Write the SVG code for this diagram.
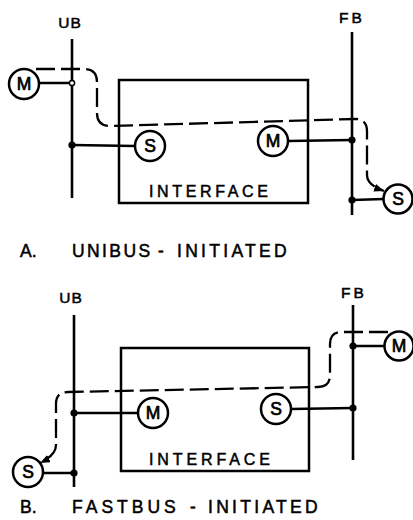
<svg xmlns="http://www.w3.org/2000/svg" width="413" height="520" viewBox="0 0 413 520">
<defs>
<style>
.ln{stroke:#000;stroke-width:2.5;fill:none;stroke-linecap:round}
.bus{stroke:#000;stroke-width:2.6;fill:none}
.box{stroke:#000;stroke-width:2.5;fill:none}
.dash{stroke:#000;stroke-width:2.3;fill:none;stroke-dasharray:19 6}
.dot{fill:#000}
.jn{fill:#fff;stroke:#000;stroke-width:1.5}
.mod circle{fill:#fff;stroke:#000;stroke-width:2.5}
text{font-family:"Liberation Sans",Arial,sans-serif;fill:#000;stroke:#000;stroke-width:0.5}
.ml{font-size:17.5px;text-anchor:middle;stroke-width:0.7}
.bl{font-size:15.5px;text-anchor:middle}
.it{font-size:16px}
.cap{font-size:17.5px}
</style>
<marker id="arr" markerUnits="userSpaceOnUse" markerWidth="11" markerHeight="9" refX="10" refY="4" orient="auto">
<path d="M0,0 L10,4 L0,8 Z" fill="#000"/>
</marker>
</defs>
<rect width="413" height="520" fill="#fff"/>

<g id="connectors">
<!-- A: unibus-initiated -->
<path class="dash" marker-end="url(#arr)" d="M36,69 H84 Q97,69 97,82 V113 Q97,126 110,126 L355,119 Q367,119 367,131 V175 Q367,185 384,191"/>
<line class="ln" x1="39" y1="83" x2="72" y2="83"/>
<line class="ln" x1="72" y1="145" x2="135" y2="146"/>
<line class="ln" x1="288" y1="141" x2="352" y2="140"/>
<line class="ln" x1="352" y1="200" x2="384" y2="199"/>
<!-- B: fastbus-initiated -->
<path class="dash" marker-end="url(#arr)" d="M388,332 H342 Q330,332 330,344 V375 Q330,387 318,387 L68,392 Q56,392 56,404 V445 Q56,455 40,463"/>
<line class="ln" x1="74" y1="413" x2="138" y2="413"/>
<line class="ln" x1="43" y1="473" x2="74" y2="473"/>
<line class="ln" x1="353" y1="346" x2="384" y2="346"/>
<line class="ln" x1="291" y1="409" x2="353" y2="408"/>
</g>

<!-- Diagram A -->
<g id="a-ub">
<line class="bus" x1="72" y1="39" x2="72" y2="198"/>
<text class="bl" x="70" y="28" letter-spacing="1">UB</text>
<circle class="jn" cx="72" cy="83" r="2.6"/>
<circle class="dot" cx="72" cy="145" r="3.6"/>
</g>
<g id="a-fb">
<line class="bus" x1="352" y1="32" x2="352" y2="215"/>
<text class="bl" x="352" y="23" letter-spacing="3">FB</text>
<circle class="dot" cx="352" cy="140" r="3.6"/>
<circle class="dot" cx="352" cy="200" r="3.6"/>
</g>
<g id="a-interface">
<rect class="box" x="119" y="80" width="189" height="123"/>
<text class="it" x="149" y="197" textLength="119" lengthAdjust="spacing">INTERFACE</text>
</g>
<g id="a-master-ub" class="mod">
<circle cx="24" cy="84" r="15"/>
<text class="ml" x="24" y="90.3">M</text>
</g>
<g id="a-slave-if" class="mod">
<circle cx="150" cy="146" r="15"/>
<text class="ml" x="150" y="152.3">S</text>
</g>
<g id="a-master-if" class="mod">
<circle cx="273" cy="141" r="15"/>
<text class="ml" x="273" y="147.3">M</text>
</g>
<g id="a-slave-fb" class="mod">
<circle cx="398" cy="199" r="14.5"/>
<text class="ml" x="398" y="205.3">S</text>
</g>
<g id="a-caption">
<text class="cap" y="257"><tspan x="20">A.</tspan> <tspan x="72" letter-spacing="2.4">UNIBUS</tspan> <tspan x="158">-</tspan> <tspan x="177" letter-spacing="3.3">INITIATED</tspan></text>
</g>

<!-- Diagram B -->
<g id="b-ub">
<line class="bus" x1="74" y1="315" x2="74" y2="487"/>
<text class="bl" x="71" y="303" letter-spacing="1">UB</text>
<circle class="dot" cx="74" cy="413" r="3.6"/>
<circle class="dot" cx="74" cy="473" r="3.6"/>
</g>
<g id="b-fb">
<line class="bus" x1="353" y1="305" x2="353" y2="460"/>
<text class="bl" x="354" y="298" letter-spacing="3">FB</text>
<circle class="dot" cx="353" cy="346" r="3.6"/>
<circle class="dot" cx="353" cy="408" r="3.6"/>
</g>
<g id="b-interface">
<rect class="box" x="121" y="348" width="188" height="123"/>
<text class="it" x="149" y="465" textLength="121" lengthAdjust="spacing">INTERFACE</text>
</g>
<g id="b-master-if" class="mod">
<circle cx="153" cy="413" r="15"/>
<text class="ml" x="153" y="419.3">M</text>
</g>
<g id="b-slave-ub" class="mod">
<circle cx="28" cy="472" r="15"/>
<text class="ml" x="28" y="478.3">S</text>
</g>
<g id="b-slave-if" class="mod">
<circle cx="276" cy="409" r="15"/>
<text class="ml" x="276" y="415.3">S</text>
</g>
<g id="b-master-fb" class="mod">
<circle cx="399" cy="346" r="14.5"/>
<text class="ml" x="399" y="352.3">M</text>
</g>
<g id="b-caption">
<text class="cap" y="513"><tspan x="20">B.</tspan> <tspan x="72" letter-spacing="4">FASTBUS</tspan> <tspan x="190">-</tspan> <tspan x="208" letter-spacing="3.3">INITIATED</tspan></text>
</g>
</svg>
